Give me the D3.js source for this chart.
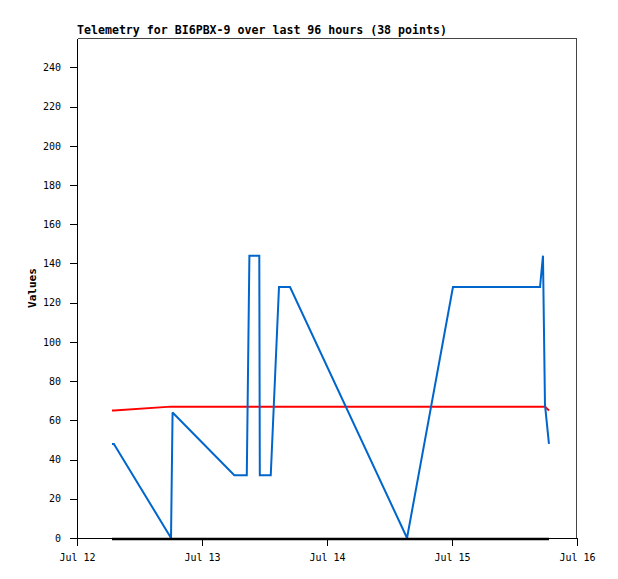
<!DOCTYPE html>
<html>
<head>
<meta charset="utf-8">
<script src="https://cdn.jsdelivr.net/npm/d3@7"></script>
<style>
  html, body { margin: 0; padding: 0; background: #fff; }
  svg { display: block; }
  text { font-family: "DejaVu Sans Mono", monospace; fill: #000; }
</style>
</head>
<body>
<svg id="chart" width="618" height="579"></svg>
<script>
// ---- data ----
const titleText = "Telemetry for BI6PBX-9 over last 96 hours (38 points)";
const yAxisLabel = "Values";
const times = [
  "2024-07-12T06:43", "2024-07-12T07:05", "2024-07-12T18:03", "2024-07-12T18:21",
  "2024-07-13T06:12", "2024-07-13T08:36", "2024-07-13T09:06",
  "2024-07-13T11:00", "2024-07-13T11:06", "2024-07-13T13:12",
  "2024-07-13T14:47", "2024-07-13T16:54", "2024-07-14T15:22",
  "2024-07-15T00:11", "2024-07-15T16:54", "2024-07-15T17:28",
  "2024-07-15T17:51", "2024-07-15T18:37"
];
const blueValues  = [48, 48, 0, 64, 32, 32, 144, 144, 32, 32, 128, 128, 0, 128, 128, 144, 68, 48];
const redValues   = [65, 65, 67, 67, 67, 67, 67, 67, 67, 67, 67, 67, 67, 67, 67, 67, 67, 65];
const blackValues = [0, 0, 0, 0, 0, 0, 0, 0, 0, 0, 0, 0, 0, 0, 0, 0, 0, 0];
const yTicks = [0, 20, 40, 60, 80, 100, 120, 140, 160, 180, 200, 220, 240];
const xTickDates = ["2024-07-12T00:00", "2024-07-13T00:00", "2024-07-14T00:00", "2024-07-15T00:00", "2024-07-16T00:00"];
const xDomain = ["2024-07-12T00:00", "2024-07-16T00:00"];
const yDomain = [0, 255];

// ---- layout ----
const margin = { left: 77, top: 38 };
const W = 500, H = 500;
const parse = d3.utcParse("%Y-%m-%dT%H:%M");

const svg = d3.select("#chart");
const g = svg.append("g").attr("transform", `translate(${margin.left},${margin.top})`);

const x = d3.scaleUtc().domain(xDomain.map(parse)).range([0, W]);
const y = d3.scaleLinear().domain(yDomain).range([H, 0]);

// frame (top & right)
g.append("path")
  .attr("d", `M0.5,0.5H${W - 0.5}V${H}`)
  .attr("fill", "none").attr("stroke", "#444").attr("stroke-width", 1)
  .attr("shape-rendering", "crispEdges");

// axes
const yAxis = d3.axisLeft(y).tickValues(yTicks).tickSize(7).tickPadding(9).tickSizeOuter(0);
const yg = g.append("g").call(yAxis);
yg.select(".domain").attr("stroke", "#000");
yg.selectAll("text").style("font-size", "10px").style("font-family", '"DejaVu Sans Mono", monospace');

const xAxis = d3.axisBottom(x).tickValues(xTickDates.map(parse))
  .tickFormat(d3.utcFormat("%b %d")).tickSize(8).tickPadding(8).tickSizeOuter(0);
const xg = g.append("g").attr("transform", `translate(0,${H})`).call(xAxis);
xg.select(".domain").attr("stroke", "#000");
xg.selectAll("text").style("font-size", "10px").style("font-family", '"DejaVu Sans Mono", monospace');
// extend bottom axis line left to meet the 0 tick
xg.append("line").attr("x1", -7).attr("x2", 0).attr("y1", 0.5).attr("y2", 0.5)
  .attr("stroke", "#000").attr("shape-rendering", "crispEdges");
g.selectAll(".tick line").attr("shape-rendering", "crispEdges");
g.selectAll(".domain").attr("shape-rendering", "crispEdges");

// series
const pts = vals => times.map((t, i) => [parse(t), vals[i]]);
const line = d3.line().x(d => x(d[0])).y(d => y(d[1]));

g.append("path").datum(pts(redValues)).attr("d", line)
  .attr("fill", "none").attr("stroke", "#ff0000").attr("stroke-width", 2).attr("stroke-linejoin", "miter");
g.append("path").datum(pts(blueValues)).attr("d", line)
  .attr("fill", "none").attr("stroke", "#0066cc").attr("stroke-width", 2).attr("stroke-linejoin", "miter").attr("stroke-miterlimit", 2);
g.append("path").datum(pts(blackValues)).attr("d", line).attr("transform", "translate(0,1)")
  .attr("fill", "none").attr("stroke", "#000").attr("stroke-width", 2.5);

// title
svg.append("text").attr("x", 77).attr("y", 34)
  .style("font-size", "11.6px").style("font-weight", "bold")
  .text(titleText);

// y label
svg.append("text")
  .attr("transform", `translate(36,${margin.top + H / 2}) rotate(-90)`)
  .attr("text-anchor", "middle")
  .style("font-size", "11px").style("font-weight", "bold")
  .text(yAxisLabel);
</script>
</body>
</html>
